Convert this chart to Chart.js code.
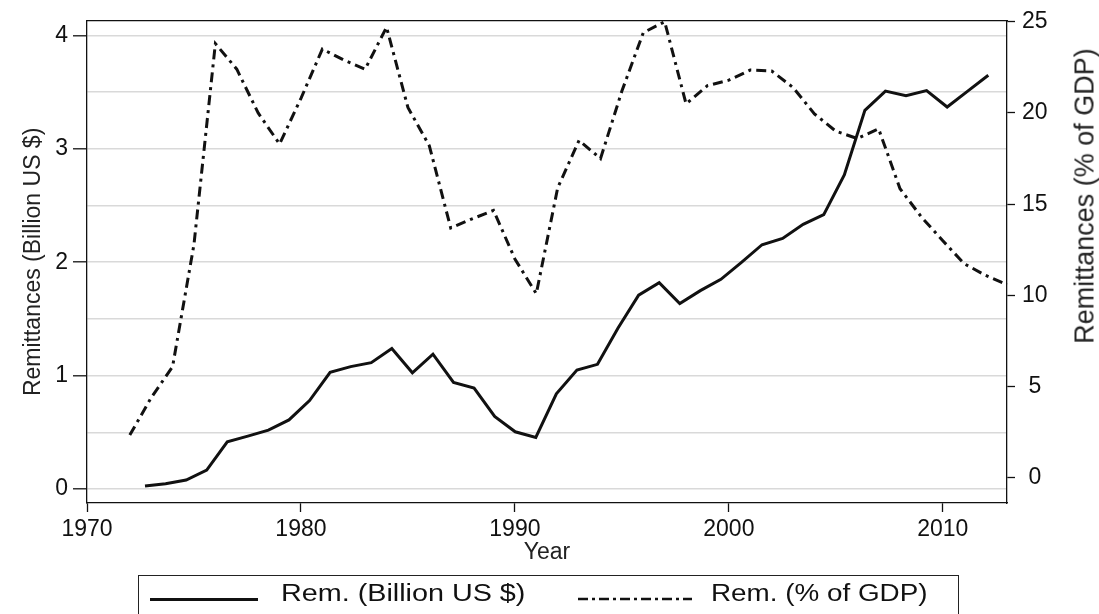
<!DOCTYPE html>
<html>
<head>
<meta charset="utf-8">
<script src="https://cdn.jsdelivr.net/npm/chart.js@4"></script>
<style>
  body { margin: 0; background: #fff; overflow: hidden; }
  #wrap { position: relative; width: 1099px; height: 614px; font-family: "Liberation Sans", Arial, sans-serif; color: #111; }
  #chart { position: absolute; left: 0; top: 0; }
  #rtitle { position: absolute; left: 1085px; top: 196px; font-size: 27px; white-space: nowrap;
            transform: translate(-50%, -50%) rotate(-90deg); color: #222; }
  #legend { position: absolute; left: 138px; top: 575px; width: 821px; height: 60px;
            border: 1.5px solid #222; box-sizing: border-box; }
  .ltext { position: absolute; top: 582px; font-size: 23px; line-height: 23px; white-space: nowrap;
           transform-origin: left center; color: #111; }
</style>
</head>
<body>
<div id="wrap">
  <canvas id="chart" width="1099" height="614"></canvas>
  <div id="rtitle">Remittances (% of GDP)</div>
  <div id="legend"></div>
  <div style="position:absolute;left:150px;top:598px;width:108px;height:2.5px;background:#111"></div>
  <div class="ltext" style="left:281px;transform:scaleX(1.25)">Rem. (Billion US $)</div>
  <svg style="position:absolute;left:578px;top:596px" width="114" height="6">
    <line x1="0" y1="3" x2="114" y2="3" stroke="#111" stroke-width="2.5" stroke-dasharray="10 4 3 4"/>
  </svg>
  <div class="ltext" style="left:711px;transform:scaleX(1.21)">Rem. (% of GDP)</div>
</div>
<script>
const years = [1972, 1973, 1974, 1975, 1976, 1977, 1978, 1979, 1980, 1981,
               1982, 1983, 1984, 1985, 1986, 1987, 1988, 1989, 1990, 1991,
               1992, 1993, 1994, 1995, 1996, 1997, 1998, 1999, 2000, 2001,
               2002, 2003, 2004, 2005, 2006, 2007, 2008, 2009, 2010, 2011,
               2012, 2013];

// remittances, billion US $ (left axis)
const remBillion = [0.026, 0.047, 0.08, 0.167, 0.417, 0.467, 0.52, 0.61, 0.78, 1.03,
                    1.08, 1.115, 1.24, 1.025, 1.19, 0.94, 0.89, 0.64, 0.505, 0.455,
                    0.84, 1.05, 1.10, 1.42, 1.71, 1.82, 1.636, 1.75, 1.85, 2.00,
                    2.155, 2.21, 2.335, 2.42, 2.77, 3.34, 3.51, 3.47, 3.515, 3.37,
                    3.51, 3.65];

// remittances, % of GDP (right axis)
const remGDP = [2.35, 4.4, 6.1, 12.8, 23.8, 22.4, 20.0, 18.3, 20.8, 23.5,
                22.9, 22.4, 24.7, 20.3, 18.2, 13.7, 14.2, 14.66, 12.0, 10.1,
                15.9, 18.5, 17.5, 21.2, 24.4, 25.0, 20.5, 21.5, 21.8, 22.35,
                22.3, 21.4, 19.95, 19.0, 18.6, 19.13, 15.85, 14.3, 13.0, 11.74,
                11.1, 10.6];

const xTicks = [1970, 1980, 1990, 2000, 2010];
const leftTicks = [0, 0.5, 1, 1.5, 2, 2.5, 3, 3.5, 4];
const rightTicks = [0, 5, 10, 15, 20, 25];

Chart.defaults.font.family = '"Liberation Sans", Arial, sans-serif';
Chart.defaults.color = '#111';

const tickFont = { size: 23 };
const ink = '#111';

new Chart(document.getElementById('chart'), {
    type: 'line',
    data: {
        datasets: [
            {
                label: 'Rem. (Billion US $)',
                data: remBillion.map((v, i) => ({ x: years[i], y: v })),
                xAxisID: 'xs',
                yAxisID: 'y',
                borderColor: ink,
                borderWidth: 3,
                pointRadius: 0,
                tension: 0
            },
            {
                label: 'Rem. (% of GDP)',
                data: remGDP.map((v, i) => ({ x: years[i], y: v })),
                xAxisID: 'x',
                yAxisID: 'y2',
                borderColor: ink,
                borderWidth: 3,
                borderDash: [10, 5, 3, 5],
                pointRadius: 0,
                tension: 0,
                clip: false
            }
        ]
    },
    options: {
        responsive: false,
        animation: false,
        events: [],
        layout: { padding: { left: 0, right: 0, top: 20, bottom: 47.2 } },
        plugins: { legend: { display: false }, tooltip: { enabled: false } },
        scales: {
            x: {
                type: 'linear',
                position: 'bottom',
                min: 1970,
                max: 2013,
                afterBuildTicks: s => { s.ticks = xTicks.map(v => ({ value: v })); },
                afterFit: s => { s.height = 63.8; },
                ticks: { font: tickFont, color: ink, padding: 4, maxRotation: 0, autoSkip: false, callback: v => String(v) },
                grid: { drawOnChartArea: false, tickLength: 9, tickColor: ink, tickWidth: 1.3 },
                border: { color: ink, width: 1.3 },
                title: { display: true, text: 'Year', font: { size: 23 }, color: '#222', padding: { top: 0, bottom: 0 } }
            },
            xs: {
                // the solid series sits on a slightly narrower year scale in the source figure
                type: 'linear',
                position: 'top',
                min: 1969.18,
                max: 2013.91,
                afterFit: s => { s.height = 0; },
                ticks: { display: false },
                grid: { display: false },
                border: { display: true, color: ink, width: 1.3 }
            },
            y: {
                position: 'left',
                min: -0.123,
                max: 4.13,
                afterBuildTicks: s => { s.ticks = leftTicks.map(v => ({ value: v })); },
                afterFit: s => { s.width = 87; },
                ticks: { font: tickFont, color: ink, padding: 5, callback: v => Number.isInteger(v) ? String(v) : '' },
                grid: {
                    color: '#d9d9d9',
                    lineWidth: 1.6,
                    tickLength: 14,
                    tickWidth: 1.3,
                    tickColor: c => Number.isInteger(c.tick.value) ? ink : 'rgba(0,0,0,0)'
                },
                border: { color: ink, width: 1.3 },
                title: { display: true, text: 'Remittances (Billion US $)', font: { size: 23 }, color: '#222', padding: { top: 20, bottom: 0 } }
            },
            y2: {
                position: 'right',
                min: -1.37,
                max: 25.05,
                afterBuildTicks: s => { s.ticks = rightTicks.map(v => ({ value: v })); },
                afterFit: s => { s.width = 92; },
                ticks: { font: tickFont, color: ink, padding: 7, crossAlign: 'center' },
                grid: { drawOnChartArea: false, tickLength: 8, tickColor: ink, tickWidth: 1.3 },
                border: { color: ink, width: 1.3 }
            }
        }
    }
});
</script>
</body>
</html>
